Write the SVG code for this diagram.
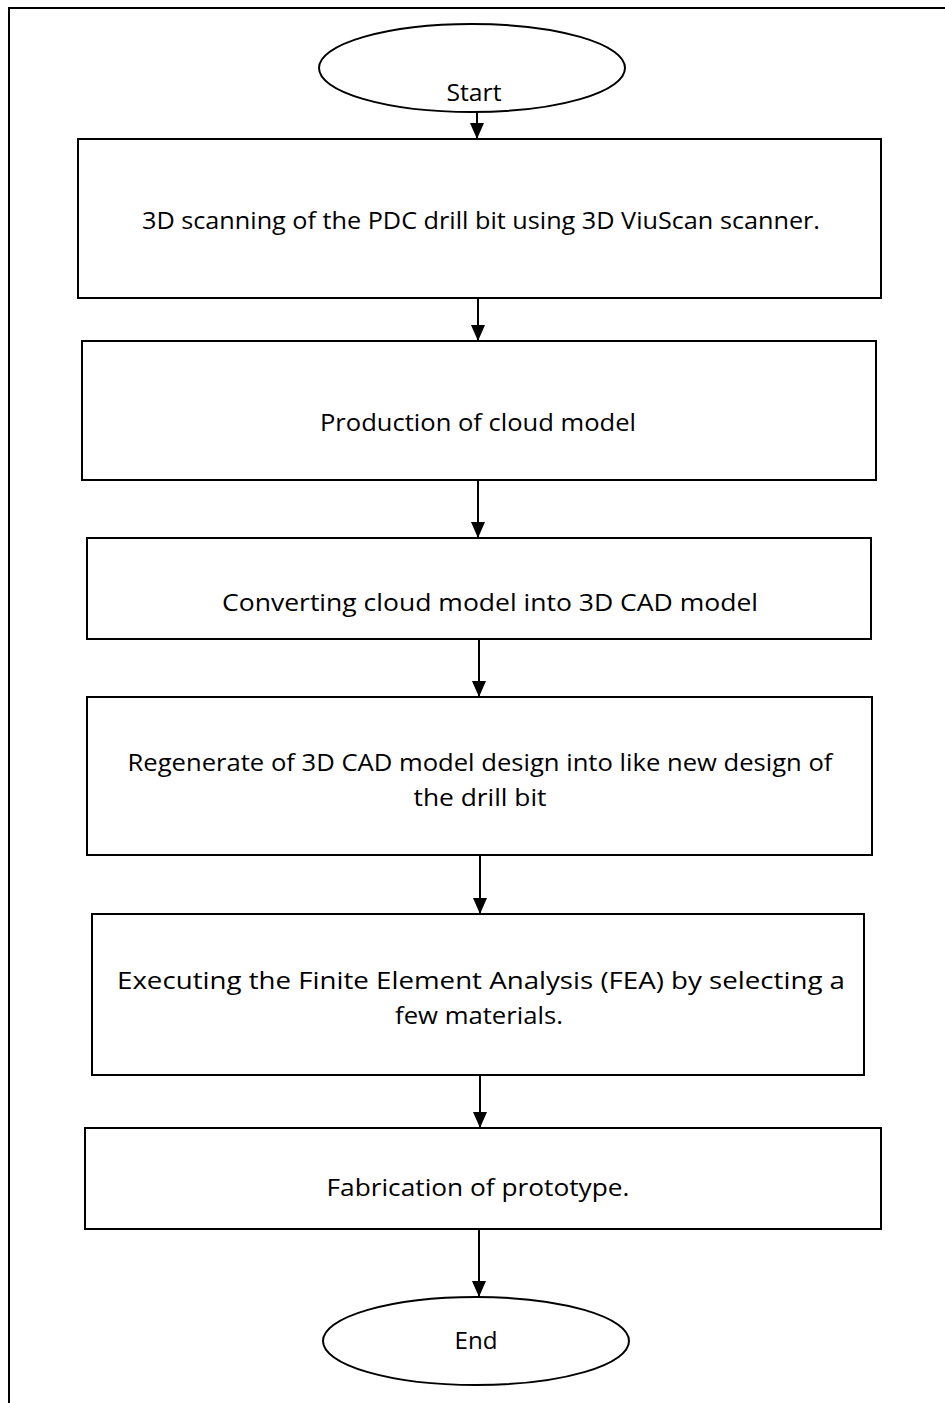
<svg xmlns="http://www.w3.org/2000/svg" width="945" height="1403" viewBox="0 0 945 1403">
<style>
.frame{fill:none;stroke:#000;stroke-width:2}
.box{fill:#fff;stroke:#000;stroke-width:2}
.conn{stroke:#000;stroke-width:2;fill:none}
.t{font-family:"Open Sans","Liberation Sans",sans-serif;font-size:24px;fill:#000;text-anchor:middle}
</style>
<defs>
<marker id="arr" markerWidth="17" markerHeight="14" refX="16" refY="7" orient="auto" markerUnits="userSpaceOnUse" viewBox="0 0 17 14">
<path d="M0,0 L16,7 L0,14 Z" fill="#000"/>
</marker>
</defs>
<rect width="945" height="1403" fill="#fff"/>
<path class="frame" d="M945,8 L9,8 L9,1403"/>
<g id="connectors">
<line class="conn" x1="477" y1="112" x2="477" y2="139" marker-end="url(#arr)"/>
<line class="conn" x1="478" y1="298" x2="478" y2="341" marker-end="url(#arr)"/>
<line class="conn" x1="478" y1="480" x2="478" y2="538" marker-end="url(#arr)"/>
<line class="conn" x1="479" y1="639" x2="479" y2="697" marker-end="url(#arr)"/>
<line class="conn" x1="480" y1="855" x2="480" y2="914" marker-end="url(#arr)"/>
<line class="conn" x1="480" y1="1075" x2="480" y2="1128" marker-end="url(#arr)"/>
<line class="conn" x1="479" y1="1229" x2="479" y2="1297" marker-end="url(#arr)"/>
</g>
<g id="start">
<ellipse class="box" cx="472" cy="68" rx="153" ry="44"/>
<text class="t" x="474" y="101" textLength="55" lengthAdjust="spacingAndGlyphs">Start</text>
</g>
<g id="step1">
<rect class="box" x="78" y="139" width="803" height="159"/>
<text class="t" x="481" y="229" textLength="678" lengthAdjust="spacingAndGlyphs">3D scanning of the PDC drill bit using 3D ViuScan scanner.</text>
</g>
<g id="step2">
<rect class="box" x="82" y="341" width="794" height="139"/>
<text class="t" x="478" y="431" textLength="316" lengthAdjust="spacingAndGlyphs">Production of cloud model</text>
</g>
<g id="step3">
<rect class="box" x="87" y="538" width="784" height="101"/>
<text class="t" x="490" y="611" textLength="536" lengthAdjust="spacingAndGlyphs">Converting cloud model into 3D CAD model</text>
</g>
<g id="step4">
<rect class="box" x="87" y="697" width="785" height="158"/>
<text class="t" x="480" y="771" textLength="705" lengthAdjust="spacingAndGlyphs">Regenerate of 3D CAD model design into like new design of</text>
<text class="t" x="480" y="806" textLength="133" lengthAdjust="spacingAndGlyphs">the drill bit</text>
</g>
<g id="step5">
<rect class="box" x="92" y="914" width="772" height="161"/>
<text class="t" x="481" y="989" textLength="728" lengthAdjust="spacingAndGlyphs">Executing the Finite Element Analysis (FEA) by selecting a</text>
<text class="t" x="479" y="1024" textLength="168" lengthAdjust="spacingAndGlyphs">few materials.</text>
</g>
<g id="step6">
<rect class="box" x="85" y="1128" width="796" height="101"/>
<text class="t" x="478" y="1196" textLength="303" lengthAdjust="spacingAndGlyphs">Fabrication of prototype.</text>
</g>
<g id="end">
<ellipse class="box" cx="476" cy="1341" rx="153" ry="44"/>
<text class="t" x="476" y="1349" textLength="43" lengthAdjust="spacingAndGlyphs">End</text>
</g>
</svg>
